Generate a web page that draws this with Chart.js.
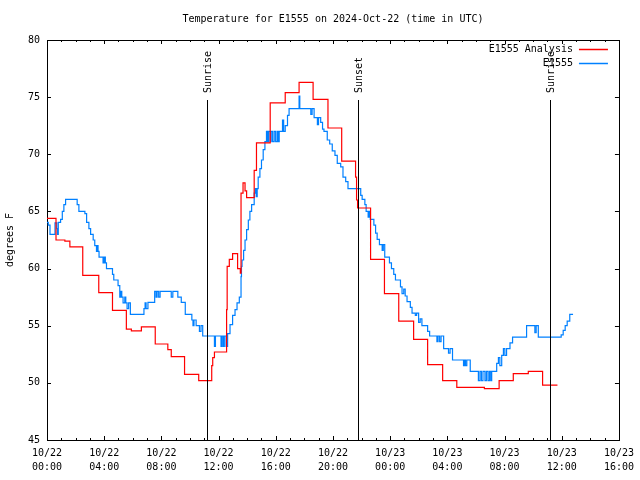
<!DOCTYPE html>
<html>
<head>
<meta charset="utf-8">
<script src="https://cdn.jsdelivr.net/npm/chart.js@4.4.1/dist/chart.umd.min.js"></script>
<style>
html,body{margin:0;padding:0;background:#fff;}
#wrap{width:640px;height:480px;}
</style>
</head>
<body>
<div id="wrap"><canvas id="c" width="640" height="480"></canvas></div>
<script>
const chartTitle = 'Temperature for E1555 on 2024-Oct-22 (time in UTC)';
const yAxisTitle = 'degrees F';
const seriesNames = ['E1555 Analysis', 'E1555'];
const seriesColors = ['#ff0000', '#0080ff'];
const xTickLabels = [
  ['10/22','00:00'],['10/22','04:00'],['10/22','08:00'],['10/22','12:00'],['10/22','16:00'],['10/22','20:00'],
  ['10/23','00:00'],['10/23','04:00'],['10/23','08:00'],['10/23','12:00'],['10/23','16:00']
];
const eventNames = ['Sunrise', 'Sunset', 'Sunrise'];
const eventHours = [11.16, 21.74, 35.19];

const analysisHours = [0.0,0.63,1.25,1.60,2.50,3.62,4.58,5.55,5.90,6.60,7.57,8.45,8.69,9.62,10.61,11.52,11.59,11.71,12.56,12.60,12.75,12.98,13.33,13.52,13.57,13.71,13.85,13.96,14.49,14.65,15.61,16.66,17.63,18.61,19.65,20.61,21.58,21.65,21.72,22.63,23.60,24.60,25.64,26.62,27.67,28.66,30.59,31.62,32.61,33.66,34.66,35.70];
const analysisTemps = [64.4,62.5,62.4,61.9,59.4,57.9,56.35,54.7,54.55,54.9,53.4,52.9,52.3,50.75,50.2,51.5,52.2,52.7,56.4,60.2,60.8,61.3,60.0,59.6,66.6,67.5,66.8,66.2,68.6,71.0,74.5,75.4,76.3,74.8,72.3,69.4,68.0,66.0,65.3,60.8,57.8,55.4,53.8,51.6,50.2,49.6,49.5,50.2,50.8,51.0,49.8,49.8];

const obsHours = [0.0,0.09,0.21,0.56,0.68,0.73,0.79,0.95,1.07,1.18,1.30,2.11,2.23,2.65,2.77,2.93,3.05,3.23,3.34,3.46,3.52,3.57,3.64,3.92,4.0,4.08,4.16,4.58,4.67,4.97,5.09,5.16,5.23,5.32,5.44,5.51,5.60,5.71,5.83,6.78,6.86,6.93,7.06,7.53,7.63,7.70,7.81,7.91,8.69,8.80,9.15,9.39,9.67,10.13,10.21,10.28,10.43,10.66,10.77,10.89,11.71,11.78,12.17,12.24,12.33,12.40,12.52,12.63,12.80,12.98,13.15,13.29,13.45,13.57,13.60,13.64,13.75,13.85,13.96,14.08,14.19,14.31,14.49,14.56,14.63,14.70,14.77,14.89,15.0,15.12,15.24,15.35,15.42,15.50,15.61,15.68,15.78,15.89,15.99,16.10,16.17,16.24,16.47,16.55,16.66,16.82,16.93,17.63,17.68,18.45,18.54,18.68,18.91,18.99,19.14,19.27,19.37,19.60,19.77,19.95,20.14,20.30,20.54,20.70,20.89,21.05,21.94,22.04,22.23,22.32,22.46,22.54,22.61,22.86,22.98,23.09,23.25,23.44,23.52,23.62,23.95,24.09,24.25,24.37,24.72,24.83,24.95,25.05,25.18,25.41,25.53,25.76,25.85,25.99,26.10,26.22,26.62,26.76,27.27,27.35,27.46,27.56,27.74,28.08,28.19,28.36,29.13,29.20,29.27,29.36,29.60,30.17,30.28,30.38,30.49,30.63,30.73,30.84,30.94,31.03,31.10,31.45,31.57,31.67,31.80,31.92,32.02,32.14,32.38,32.56,33.54,34.12,34.21,34.36,35.82,35.96,36.10,36.24,36.38,36.56,36.79];
const obsTemps = [64.05,63.8,63.0,64.0,63.5,63.0,64.05,64.3,65.0,65.6,66.05,65.6,65.0,64.8,64.05,63.5,63.0,62.5,62.0,61.5,62.0,61.5,61.0,60.5,61.0,60.5,60.0,59.5,59.0,58.5,57.5,58.0,57.5,57.0,57.5,57.0,56.5,57.0,56.0,56.5,57.0,56.5,57.05,58.0,57.5,58.0,57.5,58.0,57.5,58.0,57.5,57.05,56.0,55.5,55.0,55.5,55.0,54.5,55.0,54.1,53.2,54.1,53.2,54.1,53.2,54.1,53.2,54.3,55.1,55.9,56.4,57.0,57.5,59.3,60.2,60.75,61.6,62.5,63.4,64.25,65.0,65.6,66.6,67.0,66.3,67.0,68.0,68.75,69.5,70.4,71.1,72.0,71.1,72.0,71.1,72.0,71.1,72.0,71.1,72.0,71.1,72.0,73.0,72.0,72.5,73.4,74.0,75.1,74.0,73.5,74.0,73.2,72.6,73.2,72.8,72.2,72.0,71.25,70.9,70.3,69.9,69.2,68.9,68.0,67.6,67.0,66.4,66.05,65.6,65.0,64.5,65.0,64.3,63.8,63.1,62.55,62.1,61.6,62.1,61.0,60.5,60.0,59.5,59.0,58.4,57.8,58.2,57.6,57.1,56.6,56.1,55.9,56.1,55.3,55.6,55.0,54.5,54.1,53.6,54.1,53.6,54.1,53.0,52.6,53.0,52.0,51.5,52.0,51.5,52.0,51.0,50.2,51.0,50.2,51.0,50.2,51.0,50.2,51.0,50.2,51.0,51.7,52.2,51.5,52.4,53.0,52.4,53.0,53.5,54.0,55.0,54.4,55.0,54.0,54.0,54.2,54.6,55.0,55.4,56.0,56.0];

const FONT = '"DejaVu Sans Mono", monospace';

function pts(xs, ys){ return xs.map((x,i)=>({x:x, y:ys[i]})); }

const gnuFrame = {
  id: 'gnuFrame',
  beforeDatasetsDraw(chart){
    const ctx = chart.ctx, a = chart.chartArea;
    const xs = chart.scales.x, ys = chart.scales.y;
    ctx.save();
    ctx.strokeStyle = '#000';
    ctx.lineWidth = 1;
    ctx.beginPath();
    for (let h = 0; h <= 40; h++) {
      const px = Math.round(xs.getPixelForValue(h)) + 0.5;
      const len = (h % 4 === 0) ? 4 : 2;
      ctx.moveTo(px, a.bottom); ctx.lineTo(px, a.bottom - len);
      ctx.moveTo(px, a.top); ctx.lineTo(px, a.top + len);
    }
    for (let v = 45; v <= 80; v += 5) {
      const py = Math.round(ys.getPixelForValue(v)) + 0.5;
      ctx.moveTo(a.left, py); ctx.lineTo(a.left + 4, py);
      ctx.moveTo(a.right, py); ctx.lineTo(a.right - 4, py);
    }
    ctx.stroke();
    ctx.strokeRect(Math.round(a.left) + 0.5, Math.round(a.top) + 0.5, Math.round(a.right - a.left), Math.round(a.bottom - a.top));
    ctx.restore();
  },
  afterDatasetsDraw(chart){
    const ctx = chart.ctx, a = chart.chartArea;
    const xs = chart.scales.x;
    ctx.save();
    ctx.fillStyle = '#000';
    ctx.strokeStyle = '#000';
    ctx.lineWidth = 1;
    ctx.font = '10px ' + FONT;
    const topY = a.bottom - 0.85 * (a.bottom - a.top);
    eventHours.forEach((h, i) => {
      const px = Math.round(xs.getPixelForValue(h)) + 0.5;
      ctx.beginPath();
      ctx.moveTo(px, a.bottom); ctx.lineTo(px, topY);
      ctx.stroke();
      ctx.save();
      ctx.translate(px + 1, topY - 7);
      ctx.rotate(-Math.PI / 2);
      ctx.textAlign = 'left';
      ctx.textBaseline = 'middle';
      ctx.fillText(eventNames[i], 0, 0);
      ctx.restore();
    });
    ctx.textAlign = 'right';
    ctx.textBaseline = 'middle';
    seriesNames.forEach((n, i) => {
      const y = a.top + 9 + i * 14;
      ctx.fillStyle = '#000';
      ctx.fillText(n, a.right - 46, y);
      ctx.strokeStyle = seriesColors[i];
      ctx.lineWidth = 1.5;
      ctx.beginPath();
      ctx.moveTo(a.right - 40, y + 0.5);
      ctx.lineTo(a.right - 11, y + 0.5);
      ctx.stroke();
    });
    ctx.fillStyle = '#000';
    ctx.textAlign = 'center';
    ctx.fillText(chartTitle, (a.left + a.right) / 2, 19);
    ctx.restore();
  }
};

new Chart(document.getElementById('c'), {
  type: 'line',
  data: {
    datasets: [
      { label: seriesNames[0], data: pts(analysisHours, analysisTemps), borderColor: seriesColors[0], borderWidth: 1.2, pointRadius: 0, stepped: true, fill: false },
      { label: seriesNames[1], data: pts(obsHours, obsTemps), borderColor: seriesColors[1], borderWidth: 1.2, pointRadius: 0, stepped: true, fill: false }
    ]
  },
  options: {
    responsive: false,
    animation: false,
    devicePixelRatio: 1,
    layout: { padding: { top: 40, right: 19, left: 0, bottom: 0 } },
    plugins: { legend: { display: false }, title: { display: false }, tooltip: { enabled: false } },
    scales: {
      x: {
        type: 'linear', min: 0, max: 40,
        grid: { display: false, drawTicks: false },
        border: { display: false },
        afterFit(s){ s.height = 40; },
        afterBuildTicks(s){ s.ticks = xTickLabels.map((_, i) => ({ value: i * 4 })); },
        ticks: {
          autoSkip: false, maxRotation: 0, minRotation: 0, padding: 6,
          color: '#000', font: { family: FONT, size: 10, lineHeight: 1.4 },
          callback(v, i){ return xTickLabels[i]; }
        }
      },
      y: {
        min: 45, max: 80,
        grid: { display: false, drawTicks: false },
        border: { display: false },
        afterFit(s){ s.width = 47; },
        ticks: { stepSize: 5, padding: 7, color: '#000', font: { family: FONT, size: 10 } },
        title: { display: true, text: yAxisTitle, color: '#000', font: { family: FONT, size: 10 }, padding: 4 }
      }
    }
  },
  plugins: [gnuFrame]
});
</script>
</body>
</html>
